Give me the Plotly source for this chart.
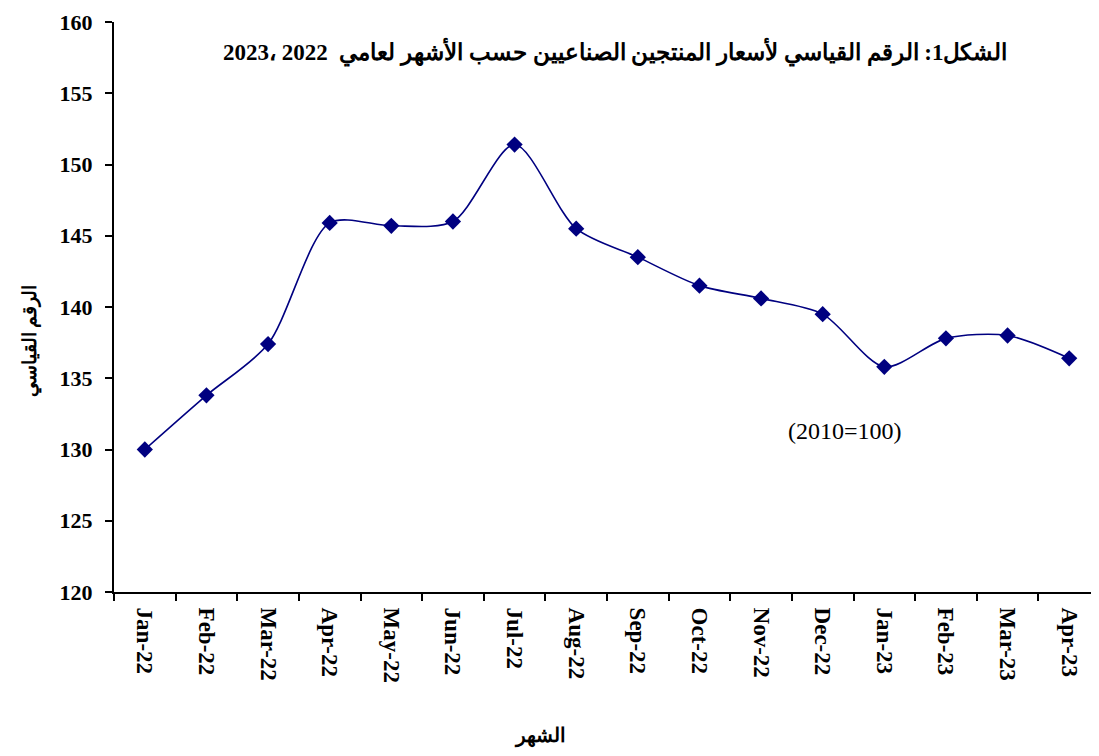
import plotly.graph_objects as go

months = ["Jan-22", "Feb-22", "Mar-22", "Apr-22", "May-22", "Jun-22", "Jul-22", "Aug-22",
          "Sep-22", "Oct-22", "Nov-22", "Dec-22", "Jan-23", "Feb-23", "Mar-23", "Apr-23"]
index_values = [130.0, 133.8, 137.4, 145.9, 145.7, 146.0, 151.4, 145.5,
                143.5, 141.5, 140.6, 139.5, 135.8, 137.8, 138.0, 136.4]
y_ticks = [120, 125, 130, 135, 140, 145, 150, 155, 160]

title_text = "الشكل1: الرقم القياسي لأسعار المنتجين الصناعيين حسب الأشهر لعامي  2022 ،2023"
y_title = "الرقم القياسي"
x_title = "الشهر"
base_note = "(2010=100)"

navy = "#000080"
serif = "Liberation Serif, Times New Roman, DejaVu Serif, serif"

fig = go.Figure()
fig.add_trace(go.Scatter(
    x=months, y=index_values, mode="lines+markers",
    line=dict(color=navy, width=1.6, shape="spline", smoothing=0.8),
    marker=dict(symbol="diamond", size=12.5, color=navy, line=dict(color=navy, width=0)),
    showlegend=False,
))

fig.update_layout(
    width=1099, height=756,
    margin=dict(l=106, r=7, t=14, b=172),
    paper_bgcolor="white", plot_bgcolor="white",
    font=dict(family=serif, color="black"),
    xaxis=dict(
        type="category", tickangle=90, tickson="boundaries",
        ticks="outside", ticklen=7, tickcolor="black", tickwidth=1.5,
        showline=True, linecolor="black", linewidth=2,
        showgrid=False, zeroline=False,
        tickfont=dict(family=serif, size=23, color="black", weight="bold"),
        ticklabelstandoff=9,
        range=[-0.5, 15.5], automargin=False,
    ),
    yaxis=dict(
        range=[120, 160], tickvals=y_ticks,
        ticks="outside", ticklen=7, tickcolor="black", tickwidth=1.5,
        showline=True, linecolor="black", linewidth=2,
        showgrid=False, zeroline=False,
        tickfont=dict(family=serif, size=22, color="black", weight="bold"),
        ticklabelstandoff=8, ticklabeloverflow="allow",
        automargin=False,
    ),
    annotations=[
        dict(text="<b>" + title_text + "</b>", xref="paper", yref="paper",
             x=0.508, y=0.947, xanchor="center", yanchor="middle", showarrow=False,
             font=dict(family=serif, size=23, color="black")),
        dict(text="<b>" + y_title + "</b>", xref="paper", yref="paper",
             x=-0.085, y=0.44, xanchor="center", yanchor="middle", showarrow=False,
             textangle=-90, font=dict(family=serif, size=19, color="black")),
        dict(text="<b>" + x_title + "</b>", xref="paper", yref="paper",
             x=0.432, y=-0.252, xanchor="center", yanchor="middle", showarrow=False,
             font=dict(family=serif, size=20, color="black")),
        dict(text=base_note, xref="paper", yref="paper",
             x=0.741, y=0.283, xanchor="center", yanchor="middle", showarrow=False,
             font=dict(family=serif, size=24, color="black")),
    ],
)

fig.write_html("out.html")
